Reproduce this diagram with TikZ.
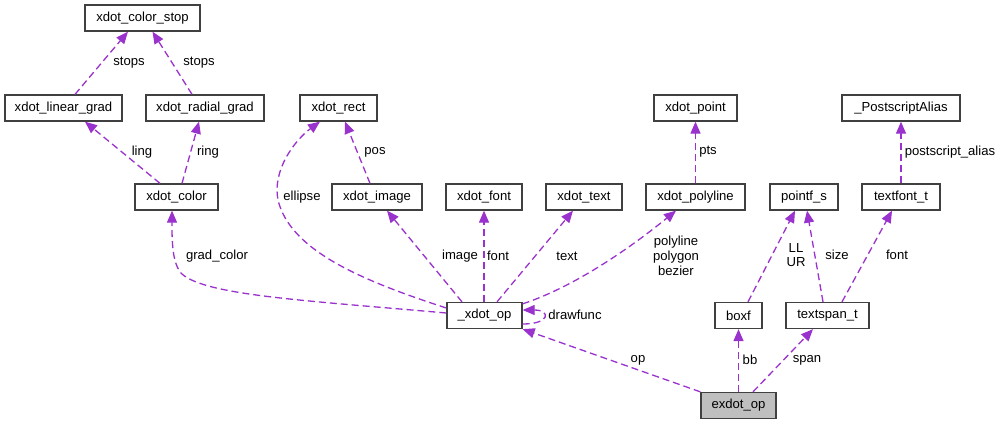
\documentclass[tikz,border=0pt]{standalone}
\usepackage{fontspec}
\setmainfont{Liberation Sans}
\usetikzlibrary{arrows.meta}
\definecolor{edgec}{HTML}{9A32CD}
\begin{document}
\begin{tikzpicture}[x=1pt,y=-1pt, font=\fontsize{13.1}{15}\selectfont,
 box/.style={draw=black!75, line width=1.3pt, minimum height=26pt, inner sep=0pt, anchor=center},
 edge/.style={draw=edgec, line width=1.3pt, dash pattern=on 7pt off 4pt, -{Triangle[length=12pt,width=10pt]}},
 lbl/.style={inner sep=0pt, anchor=center, align=center}]
\useasboundingbox[fill=white] (0,0) rectangle (1003,424);
% nodes
\node[box,minimum width=115pt] (xcs) at (142.5,18) {xdot\_color\_stop};
\node[box,minimum width=117pt] (xlg) at (63.5,108) {xdot\_linear\_grad};
\node[box,minimum width=118pt] (xrg) at (205,108) {xdot\_radial\_grad};
\node[box,minimum width=83pt] (xcol) at (176.5,197) {xdot\_color};
\node[box,minimum width=77pt] (xrect) at (338.5,108) {xdot\_rect};
\node[box,minimum width=90pt] (ximg) at (377,197) {xdot\_image};
\node[box,minimum width=76pt] (xfont) at (484,197) {xdot\_font};
\node[box,minimum width=76pt] (xtext) at (584,197) {xdot\_text};
\node[box,minimum width=83pt] (xpt) at (695.5,108) {xdot\_point};
\node[box,minimum width=118pt] (psa) at (901,108) {\_PostscriptAlias};
\node[box,minimum width=99pt] (xpoly) at (695.5,197) {xdot\_polyline};
\node[box,minimum width=68pt] (pfs) at (804,197) {pointf\_s};
\node[box,minimum width=78pt] (tft) at (901,197) {textfont\_t};
\node[box,minimum width=75pt] (xop) at (484.5,315.5) {\_xdot\_op};
\node[box,minimum width=47pt] (boxf) at (738.5,315.5) {boxf};
\node[box,minimum width=83pt] (tsp) at (827.5,315.5) {textspan\_t};
\node[box,minimum width=75pt,fill=black!25] (exop) at (738.5,405.5) {exdot\_op};
% edges
\draw[edge] ([xshift=11.5pt]xlg.north) -- ([xshift=-14.5pt]xcs.south);
\draw[edge] ([xshift=-13pt]xrg.north) -- ([xshift=10pt]xcs.south);
\draw[edge] ([xshift=-16.5pt]xcol.north) -- ([xshift=21.5pt]xlg.south);
\draw[edge] ([xshift=5.5pt]xcol.north) -- ([xshift=-6pt]xrg.south);
\draw[edge] ([xshift=-7pt]ximg.north) -- ([xshift=6.5pt]xrect.south);
\draw[edge] ([yshift=7.5pt]xop.west) .. controls (360,280) and (290,250) .. (278,200) .. controls (272,170) and (295,140) .. ([xshift=-18.5pt]xrect.south);
\draw[edge] ([yshift=2.5pt]xop.west) .. controls (300,300) and (200,295) .. (180,272) .. controls (172,260) and (172,240) .. ([xshift=-4.5pt]xcol.south);
\draw[edge] ([xshift=-22.5pt]xop.north) -- ([xshift=10pt]ximg.south);
\draw[edge] ([xshift=-0.5pt]xop.north) -- (xfont.south);
\draw[edge] ([xshift=12.5pt]xop.north) -- ([xshift=-11pt]xtext.south);
\draw[edge] ([yshift=-2pt]xop.north east) .. controls (580,285) and (640,240) .. ([xshift=-19.5pt]xpoly.south);
\draw[edge] ([yshift=-8.5pt]xop.east) .. controls +(28,0) and +(28,0) .. ([yshift=5.5pt]xop.east);
\draw[edge] (xpoly.north) -- (xpt.south);
\draw[edge] ([xshift=9.5pt]boxf.north) -- ([xshift=-9pt]pfs.south);
\draw[edge] ([xshift=-4.5pt]tsp.north) -- ([xshift=3pt]pfs.south);
\draw[edge] ([xshift=14.5pt]tsp.north) -- ([xshift=-9pt]tft.south);
\draw[edge] (tft.north) -- (psa.south);
\draw[edge] (exop.north west) -- (xop.south east);
\draw[edge] (exop.north) -- (boxf.south);
\draw[edge] ([xshift=14.5pt]exop.north) -- ([xshift=-14.5pt]tsp.south);
% labels
\node[lbl] (l1) at (129,63) {stops};
\node[lbl] (l2) at (199,63) {stops};
\node[lbl] (l3) at (142,152) {ling};
\node[lbl] (l4) at (208,152) {ring};
\node[lbl] (l5) at (302,197) {ellipse};
\node[lbl] (l6) at (375,152) {pos};
\node[lbl] (l7) at (217,256) {grad\_color};
\node[lbl] (l8) at (460,256) {image};
\node[lbl] (l9) at (498,256) {font};
\node[lbl] (l10) at (567,256) {text};
\node[lbl] (l11) at (676,256) {polyline\\polygon\\bezier};
\node[lbl] (l12) at (708,152) {pts};
\node[lbl,font=\fontsize{13.1}{14}\selectfont] (l13) at (796,255) {LL\\UR};
\node[lbl] (l14) at (837,255) {size};
\node[lbl] (l15) at (897,255) {font};
\node[lbl] (l16) at (950,152) {postscript\_alias};
\node[lbl] (l17) at (575,315) {drawfunc};
\node[lbl] (l18) at (638,360) {op};
\node[lbl] (l19) at (750,360) {bb};
\node[lbl] (l20) at (807,360) {span};
\end{tikzpicture}
\end{document}
